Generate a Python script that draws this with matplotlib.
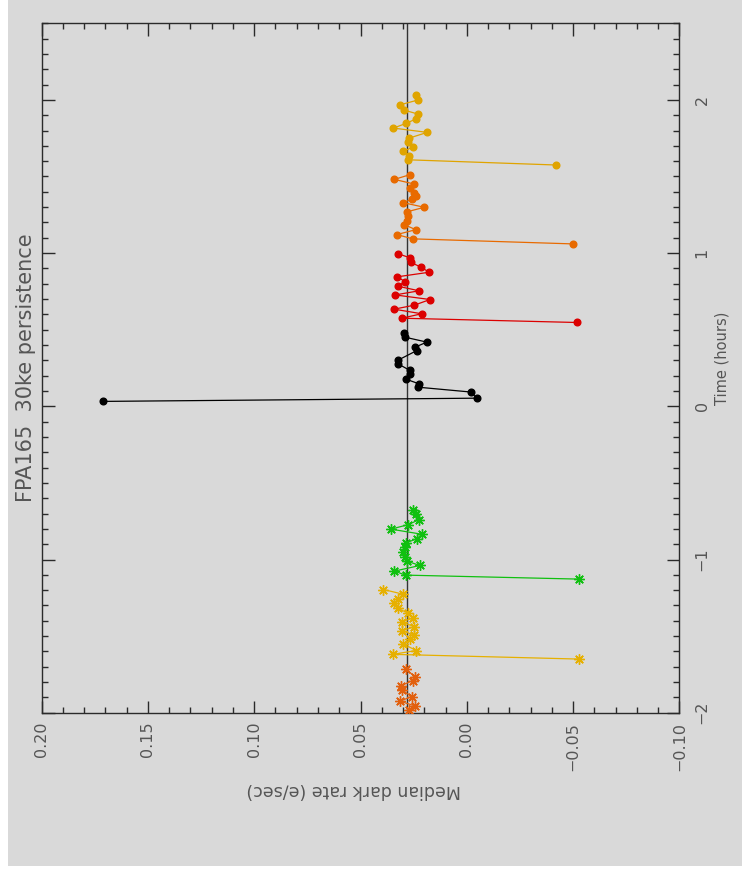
import numpy as np
import matplotlib
matplotlib.use("Agg")
import matplotlib.pyplot as plt
from matplotlib.patches import Rectangle
from matplotlib.ticker import MultipleLocator

# median dark rate (e/sec) against time (hours) for each exposure sequence
t_a = [-1.985, -1.955, -1.925, -1.895, -1.850, -1.825, -1.790, -1.765, -1.715]
r_a = [0.0270, 0.0245, 0.0315, 0.0260, 0.0305, 0.0310, 0.0255, 0.0245, 0.0286]

t_b = [-1.650, -1.619, -1.594, -1.552, -1.520, -1.493, -1.465, -1.439, -1.407,
       -1.381, -1.352, -1.319, -1.287, -1.259, -1.226, -1.196]
r_b = [-0.053, 0.0348, 0.0238, 0.0298, 0.0265, 0.0247, 0.0306, 0.0247, 0.0306,
       0.0251, 0.0275, 0.0322, 0.0341, 0.0322, 0.0301, 0.0392]

t_c = [-1.128, -1.102, -1.076, -1.039, -1.011, -0.983, -0.950, -0.918, -0.892,
       -0.863, -0.835, -0.802, -0.772, -0.739, -0.700, -0.679]
r_c = [-0.053, 0.0287, 0.0341, 0.0220, 0.0282, 0.0290, 0.0301, 0.0290, 0.0286,
       0.0233, 0.0212, 0.0356, 0.0275, 0.0223, 0.0240, 0.0251]

t_d = [0.032, 0.053, 0.093, 0.125, 0.147, 0.177, 0.208, 0.234, 0.278, 0.300,
       0.364, 0.386, 0.419, 0.451, 0.477]
r_d = [0.171, -0.0047, -0.0020, 0.0231, 0.0225, 0.0286, 0.0267, 0.0267, 0.0325,
       0.0325, 0.0235, 0.0243, 0.0188, 0.0290, 0.0294]

t_e = [0.547, 0.575, 0.604, 0.634, 0.660, 0.697, 0.727, 0.754, 0.784, 0.814,
       0.845, 0.875, 0.908, 0.940, 0.969, 0.997]
r_e = [-0.052, 0.0306, 0.0212, 0.0342, 0.0247, 0.0173, 0.0337, 0.0224, 0.0325,
       0.0290, 0.0328, 0.0177, 0.0215, 0.0264, 0.0267, 0.0325]

t_f = [1.060, 1.093, 1.121, 1.153, 1.186, 1.212, 1.244, 1.270, 1.299, 1.329,
       1.352, 1.375, 1.394, 1.422, 1.451, 1.481, 1.512]
r_f = [-0.050, 0.0254, 0.0329, 0.0240, 0.0295, 0.0282, 0.0275, 0.0280, 0.0200,
       0.0298, 0.0260, 0.0239, 0.0247, 0.0267, 0.0247, 0.0341, 0.0267]

t_g = [1.575, 1.609, 1.636, 1.664, 1.694, 1.727, 1.751, 1.788, 1.816, 1.846,
       1.875, 1.907, 1.933, 1.968, 1.999, 2.033]
r_g = [-0.042, 0.0275, 0.0270, 0.0298, 0.0251, 0.0275, 0.0270, 0.0186, 0.0345,
       0.0287, 0.0240, 0.0228, 0.0294, 0.0314, 0.0230, 0.0240]

level = 0.028
rate_ticks = [0.20, 0.15, 0.10, 0.05, 0.00, -0.05, -0.10]
rate_labels = ["0.20", "0.15", "0.10", "0.05", "0.00", "\u22120.05", "\u22120.10"]
time_ticks = [-2, -1, 0, 1, 2]
time_labels = ["\u22122", "\u22121", "0", "1", "2"]

bg = "#d9d9d9"
ink = "#2a2a2a"
txt = "#555555"

fig = plt.figure(figsize=(7.42, 8.74), dpi=100, facecolor="white")
fig.patches.append(Rectangle((8 / 742, 8 / 874), 1, 1, transform=fig.transFigure,
                             facecolor=bg, edgecolor="none", zorder=-10))

ax = fig.add_axes([41.7 / 742, 161.3 / 874, 637.6 / 742, 689.4 / 874])
ax.set_facecolor("none")

# the plot is turned on its side: rate runs across, time runs up
ax.axvline(level, color="#333333", lw=1.0, zorder=1)

asterisk = (8, 2, 0)
series = [
    (t_a, r_a, "#e2600e", asterisk),
    (t_b, r_b, "#e6b000", asterisk),
    (t_c, r_c, "#10c010", asterisk),
    (t_d, r_d, "#000000", "o"),
    (t_e, r_e, "#dc0000", "o"),
    (t_f, r_f, "#e86a00", "o"),
    (t_g, r_g, "#e0a400", "o"),
]
for t, r, c, m in series:
    if m == "o":
        ax.plot(r, t, color=c, lw=0.9, marker="o", ms=4.8, mec=c, mfc=c, zorder=3)
    else:
        ax.plot(r, t, color=c, lw=0.9, marker=m, ms=7.5, mec=c, mew=1.0, zorder=3)

ax.set_xlim(0.20, -0.10)
ax.set_ylim(-2.0, 2.5)

ax.set_xticks(rate_ticks)
ax.set_xticklabels(rate_labels, rotation=90)
ax.xaxis.set_minor_locator(MultipleLocator(0.01))
ax.set_yticks(time_ticks)
ax.set_yticklabels(time_labels, rotation=90, va="center")
ax.yaxis.set_minor_locator(MultipleLocator(0.1))
ax.yaxis.tick_right()

ax.tick_params(which="both", direction="in", top=True, bottom=True, left=True, right=True,
               color=ink, width=1.0, labelcolor=txt)
ax.tick_params(which="major", length=9, labelsize=11.5)
ax.tick_params(axis="x", which="major", pad=6.5)
ax.tick_params(axis="y", which="major", pad=11, labelleft=False, labelright=True)
ax.tick_params(which="minor", length=4.5)
for s in ax.spines.values():
    s.set_color(ink)
    s.set_linewidth(1.0)

ax.text(-0.009, 0.5, "FPA165  30ke persistence", transform=ax.transAxes, rotation=90,
        ha="right", va="center", fontsize=15, color=txt)
ax.text(1.067, 0.514, "Time (hours)", transform=ax.transAxes, rotation=90,
        ha="center", va="center", fontsize=10.5, color=txt)
ax.text(0.49, -0.112, "Median dark rate (e/sec)", transform=ax.transAxes, rotation=180,
        ha="center", va="center", fontsize=12.5, color=txt)

fig.savefig("out.png", dpi=100, facecolor=fig.get_facecolor())
